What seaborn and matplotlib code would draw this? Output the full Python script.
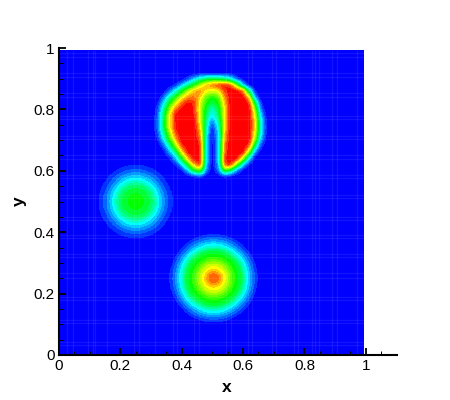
import numpy as np
import matplotlib
matplotlib.use("Agg")
import matplotlib.pyplot as plt
from matplotlib.colors import LinearSegmentedColormap
from matplotlib.ticker import FixedLocator
import seaborn as sns

sns.set_style("ticks")
plt.rcParams["font.family"] = ["Liberation Sans", "DejaVu Sans"]
plt.rcParams["axes.axisbelow"] = False

# radial profiles: distance from centre, level
hump_r = [0.0, 0.02, 0.035, 0.05, 0.065, 0.08, 0.09, 0.10, 0.11, 0.12, 0.128]
hump_v = [0.50, 0.49, 0.46, 0.41, 0.32, 0.22, 0.17, 0.12, 0.08, 0.05, 0.0]
cone_r = [0.0, 0.016, 0.033, 0.05, 0.065, 0.09, 0.10, 0.115, 0.13, 0.142, 0.152]
cone_v = [0.90, 0.86, 0.75, 0.65, 0.55, 0.43, 0.34, 0.22, 0.12, 0.06, 0.0]

# slotted cylinder, level in percent
cyl_x = [0.30, 0.32, 0.34, 0.36, 0.38, 0.40, 0.42, 0.44, 0.46, 0.48, 0.50,
         0.52, 0.54, 0.56, 0.58, 0.60, 0.62, 0.64, 0.66, 0.68]
cyl_y = [0.56, 0.58, 0.60, 0.62, 0.64, 0.66, 0.68, 0.70, 0.72, 0.74,
         0.76, 0.78, 0.80, 0.82, 0.84, 0.86, 0.88, 0.90, 0.92]
cyl_levels = [
    [0, 0, 0, 0, 0, 0, 0, 0, 0, 0, 0, 0, 0, 0, 0, 0, 0, 0, 0, 0],
    [0, 0, 0, 0, 0, 0, 0, 3, 6, 0, 0, 0, 4, 0, 0, 0, 0, 0, 0, 0],
    [0, 0, 0, 0, 0, 3, 20, 48, 58, 14, 0, 14, 55, 40, 14, 0, 0, 0, 0, 0],
    [0, 0, 0, 0, 4, 22, 52, 82, 95, 22, 0, 22, 92, 96, 60, 22, 3, 0, 0, 0],
    [0, 0, 0, 3, 20, 50, 80, 100, 98, 24, 0, 24, 96, 100, 100, 65, 24, 0, 0, 0],
    [0, 0, 2, 16, 42, 74, 98, 100, 98, 24, 0, 24, 92, 100, 100, 100, 60, 14, 0, 0],
    [0, 0, 9, 33, 64, 92, 100, 100, 95, 24, 0, 24, 90, 100, 100, 100, 90, 38, 5, 0],
    [0, 3, 22, 50, 82, 100, 100, 100, 92, 26, 0, 24, 86, 100, 100, 100, 100, 62, 14, 0],
    [0, 7, 33, 64, 92, 100, 100, 100, 84, 30, 0, 26, 82, 100, 100, 100, 100, 72, 22, 0],
    [0, 11, 42, 72, 98, 100, 100, 100, 78, 33, 4, 30, 78, 100, 100, 100, 100, 76, 26, 0],
    [0, 11, 42, 72, 98, 100, 100, 100, 72, 36, 12, 36, 76, 100, 100, 100, 100, 76, 24, 0],
    [0, 9, 40, 74, 100, 100, 100, 98, 68, 42, 24, 42, 76, 100, 100, 100, 100, 72, 18, 0],
    [0, 7, 34, 64, 90, 98, 100, 95, 68, 46, 30, 46, 76, 100, 100, 100, 100, 62, 9, 0],
    [0, 3, 24, 50, 72, 90, 98, 95, 70, 52, 42, 52, 80, 100, 100, 100, 96, 46, 4, 0],
    [0, 0, 11, 34, 54, 72, 85, 88, 78, 58, 50, 58, 86, 100, 100, 100, 80, 16, 0, 0],
    [0, 0, 0, 12, 30, 48, 68, 80, 85, 76, 70, 76, 94, 100, 100, 88, 38, 3, 0, 0],
    [0, 0, 0, 0, 5, 20, 35, 52, 68, 80, 88, 94, 98, 90, 60, 20, 0, 0, 0, 0],
    [0, 0, 0, 0, 0, 0, 8, 20, 33, 42, 45, 43, 38, 28, 10, 0, 0, 0, 0, 0],
    [0, 0, 0, 0, 0, 0, 0, 0, 0, 0, 0, 0, 0, 0, 0, 0, 0, 0, 0, 0],
]

x_major = [0, 0.2, 0.4, 0.6, 0.8, 1]
y_major = [0, 0.2, 0.4, 0.6, 0.8, 1]
x_labels = ["0", "0.2", "0.4", "0.6", "0.8", "1"]
y_labels = ["0", "0.2", "0.4", "0.6", "0.8", "1"]
x_minor = [0.05, 0.1, 0.15, 0.25, 0.3, 0.35, 0.45, 0.5, 0.55, 0.65, 0.7, 0.75, 0.85, 0.9, 0.95, 1.05]
y_minor = [0.05, 0.1, 0.15, 0.25, 0.3, 0.35, 0.45, 0.5, 0.55, 0.65, 0.7, 0.75, 0.85, 0.9, 0.95]

# faint mesh lines that show through the flood
mesh_x = [0.026, 0.046, 0.094, 0.111, 0.117, 0.156, 0.244, 0.26, 0.312, 0.37, 0.385, 0.44, 0.455,
          0.545, 0.56, 0.615, 0.63, 0.693, 0.706, 0.765, 0.778, 0.824, 0.834, 0.846, 0.89, 0.905, 0.97]
mesh_y = [0.984, 0.97, 0.919, 0.906, 0.853, 0.84, 0.78, 0.77, 0.713, 0.704, 0.65, 0.64, 0.585, 0.575,
          0.52, 0.51, 0.45, 0.44, 0.39, 0.38, 0.33, 0.32, 0.267, 0.25, 0.189, 0.179, 0.114, 0.104, 0.042, 0.033]

# cells per unit of x and y
n = 600
xc = (np.arange(n) + 0.5) / n
X, Y = np.meshgrid(xc, xc)

field = np.interp(np.hypot(X - 0.25, Y - 0.5), hump_r, hump_v, right=0)
field = field + np.interp(np.hypot(X - 0.504, Y - 0.25), cone_r, cone_v, right=0)

# bring the cylinder table onto the fine grid, then soften the kinks
table = np.array(cyl_levels) / 100
rows = np.array([np.interp(xc, cyl_x, r, left=0, right=0) for r in table])
cyl = np.array([np.interp(xc, cyl_y, c, left=0, right=0) for c in rows.T]).T
kernel = np.ones(7) / 7
for _ in range(2):
    cyl = np.apply_along_axis(lambda v: np.convolve(v, kernel, mode="same"), 0, cyl)
    cyl = np.apply_along_axis(lambda v: np.convolve(v, kernel, mode="same"), 1, cyl)
field = field + cyl

rainbow = LinearSegmentedColormap.from_list(
    "small_rainbow", ["#0000ff", "#00ffff", "#00ff00", "#ffff00", "#ff0000"], N=21
)

fig = plt.figure(figsize=(4.5, 4.0), dpi=100)
ax = fig.add_axes([59 / 450, 45 / 400, 337.5 / 450, 307 / 400])
sns.heatmap(field[:597, :597], cmap=rainbow, vmin=0, vmax=1, cbar=False, ax=ax,
            xticklabels=False, yticklabels=False, rasterized=True)
ax.set_xlim(0, n * 1.1)
ax.set_ylim(0, n)

ax.vlines([v * n for v in mesh_x], 0, 597, color="white", alpha=0.08, lw=0.9, zorder=1.5)
ax.hlines([v * n for v in mesh_y], 0, 597, color="white", alpha=0.08, lw=0.9, zorder=1.5)

for s in ["top", "right"]:
    ax.spines[s].set_visible(False)
for s in ["left", "bottom"]:
    ax.spines[s].set_visible(True)
    ax.spines[s].set_color("black")
    ax.spines[s].set_linewidth(1.5)

ax.xaxis.set_major_locator(FixedLocator([v * n for v in x_major]))
ax.yaxis.set_major_locator(FixedLocator([v * n for v in y_major]))
ax.xaxis.set_minor_locator(FixedLocator([v * n for v in x_minor]))
ax.yaxis.set_minor_locator(FixedLocator([v * n for v in y_minor]))
ax.set_xticklabels(x_labels, rotation=0)
ax.set_yticklabels(y_labels, rotation=0)
ax.tick_params(which="major", direction="in", length=5, width=1.3, color="black",
               labelsize=11, labelcolor="black", pad=3, bottom=True, left=True)
ax.tick_params(which="minor", direction="in", length=3, width=0.7, color="black",
               bottom=True, left=True)
for t in ax.get_xticklines() + ax.get_yticklines():
    t.set_clip_on(False)

fig.text(227 / 450, 1 - 387 / 400, "x", fontsize=12.5, fontweight="bold", color="black", ha="center", va="center")
fig.text(19 / 450, 1 - 201 / 400, "y", fontsize=12.5, fontweight="bold", color="black", rotation=90, ha="center", va="center")

fig.savefig("out.png", dpi=100)
